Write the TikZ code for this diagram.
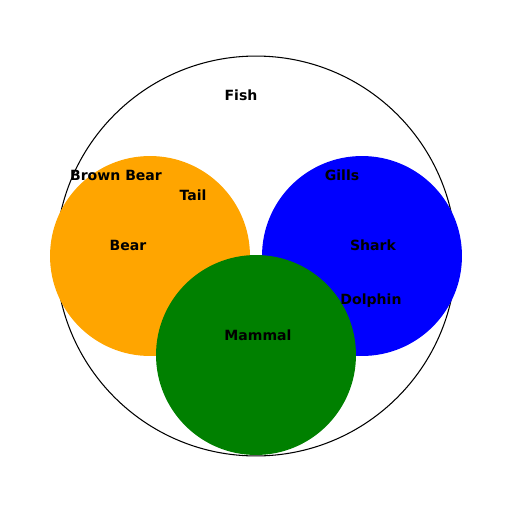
\documentclass[tikz,border=0pt]{standalone}
\usepackage{fontspec}
\setmainfont{DejaVu Sans}
\usetikzlibrary{positioning}

\begin{document}
\begin{tikzpicture}[
    x=0.02cm, y=0.02cm,
    font=\fontsize{8}{9.5}\selectfont\bfseries,
    % --- Styles ---
    setcircle/.style={circle, inner sep=0pt, outer sep=0pt, draw=none},
    outerset/.style={circle, inner sep=0pt, outer sep=0pt, draw=black, line width=0.6pt, minimum size=8cm},
    tag/.style={inner sep=0pt, text=black}
]

    % ── Colour Palette ──────────────────────────────────────────────────
    \definecolor{bear_fill}{RGB}{255, 165, 0}     % orange
    \definecolor{shark_fill}{RGB}{0, 0, 255}      % blue
    \definecolor{mammal_fill}{RGB}{0, 128, 0}     % green

    \useasboundingbox (0,0) rectangle (512,512);

    % ── SETS ────────────────────────────────────────────────────────────

    % Fish (outer set)
    \node (fish) [outerset] at (256,256) {};

    % Bear
    \node (bear) [setcircle, fill=bear_fill, minimum size=4cm] at (150,256) {};

    % Shark
    \node (shark) [setcircle, fill=shark_fill, minimum size=4cm] at (362,256) {};

    % Mammal
    \node (mammal) [setcircle, fill=mammal_fill, minimum size=4cm] at (256,157) {};

    % ── LABELS ──────────────────────────────────────────────────────────

    \node (fish_lbl)   [tag] at (241,417) {Fish};
    \node (brown_lbl)  [tag] at (116,337) {Brown Bear};
    \node (tail_lbl)   [tag] at (193,317) {Tail};
    \node (bear_lbl)   [tag] at (128,267) {Bear};
    \node (gills_lbl)  [tag] at (342,337) {Gills};
    \node (shark_lbl)  [tag] at (373,267) {Shark};
    \node (dolph_lbl)  [tag] at (371,211) {Dolphin};
    \node (mammal_lbl) [tag] at (258,177) {Mammal};

\end{tikzpicture}
\end{document}
